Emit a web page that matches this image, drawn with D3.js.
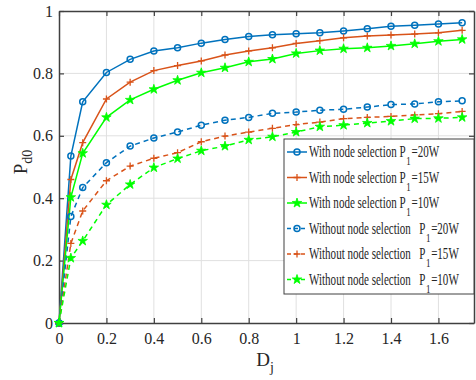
<!DOCTYPE html>
<html>
<head>
<meta charset="utf-8">
<script src="https://cdn.jsdelivr.net/npm/d3@7"></script>
<style>
  body { margin: 0; background: #fff; }
  text { font-family: "Liberation Serif", "Times New Roman", serif; fill: #262626; white-space: pre; }
</style>
</head>
<body>
<svg width="476" height="380"></svg>
<script>
// x values (D_j)
var dj = [0, 0.05, 0.1, 0.2, 0.3, 0.4, 0.5, 0.6, 0.7, 0.8, 0.9, 1.0, 1.1, 1.2, 1.3, 1.4, 1.5, 1.6, 1.7];

// with node selection
var withP20 = [0, 0.535, 0.709, 0.803, 0.845, 0.872, 0.882, 0.897, 0.909, 0.918, 0.924, 0.927, 0.930, 0.936, 0.943, 0.951, 0.954, 0.958, 0.962];
var withP15 = [0, 0.46, 0.578, 0.718, 0.772, 0.809, 0.825, 0.840, 0.859, 0.872, 0.882, 0.896, 0.905, 0.914, 0.920, 0.923, 0.926, 0.930, 0.938];
var withP10 = [0, 0.403, 0.544, 0.659, 0.715, 0.749, 0.778, 0.802, 0.818, 0.837, 0.846, 0.864, 0.873, 0.879, 0.882, 0.888, 0.895, 0.903, 0.909];

// without node selection
var woP20 = [0, 0.341, 0.434, 0.514, 0.567, 0.593, 0.612, 0.634, 0.650, 0.659, 0.672, 0.676, 0.682, 0.685, 0.692, 0.700, 0.702, 0.709, 0.712];
var woP15 = [0, 0.255, 0.359, 0.456, 0.503, 0.528, 0.546, 0.581, 0.599, 0.612, 0.624, 0.636, 0.644, 0.655, 0.659, 0.662, 0.667, 0.671, 0.678];
var woP10 = [0, 0.208, 0.263, 0.379, 0.444, 0.498, 0.527, 0.552, 0.567, 0.587, 0.597, 0.612, 0.629, 0.634, 0.641, 0.647, 0.655, 0.656, 0.659];

var xTicks = [0, 0.2, 0.4, 0.6, 0.8, 1, 1.2, 1.4, 1.6];
var yTicks = [0, 0.2, 0.4, 0.6, 0.8, 1];

var legendLabels = [
    { pre: "With node selection P", post: "=20W" },
    { pre: "With node selection P", post: "=15W" },
    { pre: "With node selection P", post: "=10W" },
    { pre: "Without node selection   P", post: "=20W" },
    { pre: "Without node selection   P", post: "=15W" },
    { pre: "Without node selection   P", post: "=10W" }
];

var series = [
    { values: withP20, color: "#0072BD", marker: "circle", dash: null },
    { values: withP15, color: "#D95319", marker: "plus", dash: null },
    { values: withP10, color: "#00FF00", marker: "star", dash: null },
    { values: woP20, color: "#0072BD", marker: "circle", dash: "5,4" },
    { values: woP15, color: "#D95319", marker: "plus", dash: "5,4" },
    { values: woP10, color: "#00FF00", marker: "star", dash: "5,4" }
];

var svg = d3.select("svg"),
    margin = { top: 11, right: 2, bottom: 57, left: 59 },
    width = +svg.attr("width") - margin.left - margin.right,
    height = +svg.attr("height") - margin.top - margin.bottom,
    g = svg.append("g").attr("transform", "translate(" + margin.left + "," + margin.top + ")");

var x = d3.scaleLinear().domain([0, 1.75]).range([0, width]);
var y = d3.scaleLinear().domain([0, 1]).range([height, 0]);

// grid
g.append("g").selectAll("line").data(xTicks.slice(1)).enter().append("line")
    .attr("x1", function (d) { return x(d); }).attr("x2", function (d) { return x(d); })
    .attr("y1", 0).attr("y2", height)
    .attr("stroke", "#e0e0e0").attr("stroke-width", 1);
g.append("g").selectAll("line").data(yTicks.slice(1, -1)).enter().append("line")
    .attr("x1", 0).attr("x2", width)
    .attr("y1", function (d) { return y(d); }).attr("y2", function (d) { return y(d); })
    .attr("stroke", "#e0e0e0").attr("stroke-width", 1);

// axes with inward ticks
var axisStyle = function (sel) {
    sel.attr("font-family", null).attr("font-size", null);
    sel.select(".domain").attr("stroke", "#404040").attr("stroke-width", 1.5);
    sel.selectAll(".tick line").attr("stroke", "#404040").attr("stroke-width", 1.2);
    sel.selectAll("text").attr("fill", "#262626").style("font-size", "16px");
};

g.append("g")
    .attr("transform", "translate(0," + height + ")")
    .call(d3.axisBottom(x).tickValues(xTicks).tickFormat(d3.format("")).tickSizeInner(-5).tickSizeOuter(0).tickPadding(10))
    .call(axisStyle);

g.append("g")
    .call(d3.axisLeft(y).tickValues(yTicks).tickFormat(d3.format("")).tickSizeInner(-5).tickSizeOuter(0).tickPadding(6))
    .call(axisStyle);

g.append("g")
    .call(d3.axisTop(x).tickValues(xTicks).tickFormat("").tickSizeInner(-5).tickSizeOuter(0))
    .call(axisStyle);

g.append("g")
    .attr("transform", "translate(" + width + ",0)")
    .call(d3.axisRight(y).tickValues(yTicks).tickFormat("").tickSizeInner(-5).tickSizeOuter(0))
    .call(axisStyle);

// axis labels
var yl = svg.append("text")
    .attr("transform", "translate(27,162) rotate(-90)")
    .attr("text-anchor", "middle")
    .style("font-size", "19px");
yl.append("tspan").text("P");
yl.append("tspan").attr("dy", 5).style("font-size", "14px").text("d0");

var xl = svg.append("text")
    .attr("x", 265).attr("y", 366)
    .attr("text-anchor", "middle")
    .style("font-size", "19px");
xl.append("tspan").text("D");
xl.append("tspan").attr("dy", 6).style("font-size", "14px").text("j");

// markers
function drawMarker(sel, type, color) {
    if (type === "circle") {
        sel.append("circle").attr("r", 3).attr("fill", "none")
            .attr("stroke", color).attr("stroke-width", 1.5);
    } else if (type === "plus") {
        sel.append("path").attr("d", "M-3.5,0H3.5M0,-3.5V3.5")
            .attr("stroke", color).attr("stroke-width", 1.3);
    } else {
        sel.append("path").attr("d", d3.symbol().type(d3.symbolStar).size(28)())
            .attr("fill", color).attr("stroke", color).attr("stroke-width", 0.8);
    }
}

var line = d3.line()
    .x(function (d, i) { return x(dj[i]); })
    .y(function (d) { return y(d); });

series.forEach(function (s) {
    g.append("path")
        .datum(s.values)
        .attr("fill", "none")
        .attr("stroke", s.color)
        .attr("stroke-width", 1.5)
        .attr("stroke-dasharray", s.dash)
        .attr("d", line);
    g.append("g").selectAll("g").data(s.values).enter().append("g")
        .attr("transform", function (d, i) { return "translate(" + x(dj[i]) + "," + y(d) + ")"; })
        .each(function () { drawMarker(d3.select(this), s.marker, s.color); });
});

// legend
var lg = svg.append("g").attr("transform", "translate(284,139)");
lg.append("rect")
    .attr("width", 190).attr("height", 155)
    .attr("fill", "#fff").attr("stroke", "#404040").attr("stroke-width", 1);

var sx = 0.69;                                                          // text is horizontally squeezed in the reference
series.forEach(function (s, i) {
    var row = lg.append("g").attr("transform", "translate(0," + (13 + i * 25.5) + ")");
    row.append("line")
        .attr("x1", 3).attr("x2", 23)
        .attr("stroke", s.color).attr("stroke-width", 1.5)
        .attr("stroke-dasharray", s.dash ? "4,3" : null);
    drawMarker(row.append("g").attr("transform", "translate(13,0)"), s.marker, s.color);
    var tg = row.append("g").attr("transform", "translate(25,5) scale(" + sx + ",1)");
    var t1 = tg.append("text").style("font-size", "16px").text(legendLabels[i].pre);
    var w1 = t1.node().getComputedTextLength();
    var t2 = tg.append("text").attr("x", w1 + 1).attr("y", 8).style("font-size", "13px").text("1");
    var w2 = t2.node().getComputedTextLength();
    tg.append("text").attr("x", w1 + w2 + 2).style("font-size", "16px").text(legendLabels[i].post);
});
</script>
</body>
</html>
